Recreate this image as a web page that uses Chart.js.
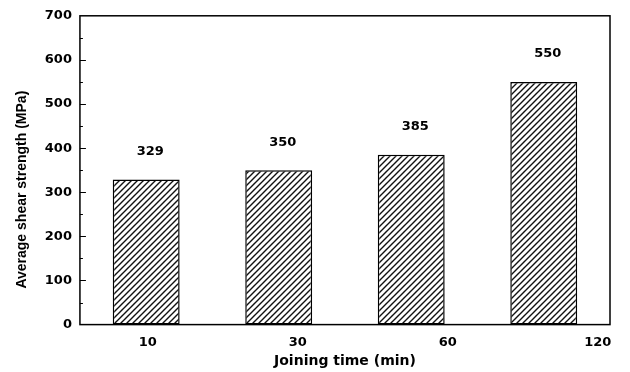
<!DOCTYPE html>
<html>
<head>
<meta charset="utf-8">
<script src="https://cdn.jsdelivr.net/npm/chart.js@4.4.0/dist/chart.umd.min.js"></script>
<style>
  body { margin: 0; background: #fff; }
  #wrap { width: 630px; height: 372px; }
</style>
</head>
<body>
<div id="wrap"><canvas id="grafico" width="630" height="372"></canvas></div>
<script>
// dados
const categorias = ['10', '30', '60', '120'];
const resistencia = [329, 350, 385, 550];
const yTicks = [0, 100, 200, 300, 400, 500, 600, 700];

// padrão hachurado das barras
function hachura() {
  const c = document.createElement('canvas');
  c.width = 6; c.height = 6;
  const g = c.getContext('2d');
  g.fillStyle = '#fff';
  g.fillRect(0, 0, 6, 6);
  g.strokeStyle = '#111';
  g.lineWidth = 1.4;
  g.beginPath();
  g.moveTo(0, 6); g.lineTo(6, 0);
  g.moveTo(-1, 1); g.lineTo(1, -1);
  g.moveTo(5, 7); g.lineTo(7, 5);
  g.stroke();
  return g.createPattern(c, 'repeat');
}

// moldura + ticks internos do eixo y
const moldura = {
  id: 'moldura',
  afterDraw(chart) {
    const { ctx, chartArea: a, scales } = chart;
    const y = scales.y;
    ctx.save();
    ctx.strokeStyle = '#000';
    ctx.lineWidth = 1.5;
    ctx.strokeRect(a.left, a.top, a.right - a.left, a.bottom - a.top);
    ctx.lineWidth = 1;
    ctx.beginPath();
    for (let v = 50; v < 700; v += 50) {
      const py = Math.round(y.getPixelForValue(v)) + 0.5;
      const len = v % 100 === 0 ? 6 : 3;
      ctx.moveTo(a.left, py);
      ctx.lineTo(a.left + len, py);
    }
    ctx.stroke();
    ctx.restore();
  }
};

// valores acima das barras
const rotulos = {
  id: 'rotulos',
  afterDatasetsDraw(chart) {
    const { ctx } = chart;
    const meta = chart.getDatasetMeta(0);
    ctx.save();
    ctx.fillStyle = '#000';
    ctx.font = 'bold 13px "DejaVu Sans"';
    ctx.textAlign = 'center';
    ctx.textBaseline = 'middle';
    meta.data.forEach((bar, i) => {
      ctx.fillText(resistencia[i], bar.x + 4, bar.y - 28);
    });
    ctx.restore();
  }
};

const ctx = document.getElementById('grafico').getContext('2d');
new Chart(ctx, {
  type: 'bar',
  data: {
    labels: categorias,
    datasets: [{
      data: resistencia,
      backgroundColor: hachura(),
      borderColor: '#000',
      borderWidth: 1.5,
      borderSkipped: false,
      categoryPercentage: 1,
      barPercentage: 0.505
    }]
  },
  options: {
    responsive: false,
    animation: false,
    layout: { padding: { top: 10, right: 20, left: 14, bottom: 2 } },
    plugins: { legend: { display: false }, tooltip: { enabled: false } },
    scales: {
      x: { display: false },
      xl: {
        type: 'linear',
        position: 'bottom',
        bounds: 'data',
        offset: false,
        min: -0.452,
        max: 3.082,
        afterBuildTicks: s => { s.ticks = categorias.map((c, i) => ({ value: i })); },
        grid: { display: false, drawTicks: false, offset: false },
        border: { display: false },
        ticks: {
          autoSkip: false,
          maxRotation: 0,
          padding: 10,
          color: '#000',
          font: { family: 'DejaVu Sans', weight: 'bold', size: 13 },
          callback: v => categorias[v]
        },
        title: {
          display: true,
          text: 'Joining time (min)',
          color: '#000',
          font: { family: 'DejaVu Sans', weight: 'bold', size: 14 },
          padding: { top: -7, bottom: 0 }
        }
      },
      y: {
        min: 0,
        max: 700,
        afterBuildTicks: s => { s.ticks = yTicks.map(v => ({ value: v })); },
        grid: { display: false, drawTicks: false },
        border: { display: false },
        ticks: {
          padding: 8,
          color: '#000',
          font: { family: 'DejaVu Sans', weight: 'bold', size: 13 }
        },
        title: {
          display: true,
          text: 'Average shear strength (MPa)          ',
          color: '#000',
          font: { family: 'Liberation Sans', weight: 'bold', size: 14 },
          padding: { top: 0, bottom: 6 }
        }
      }
    }
  },
  plugins: [moldura, rotulos]
});
</script>
</body>
</html>
